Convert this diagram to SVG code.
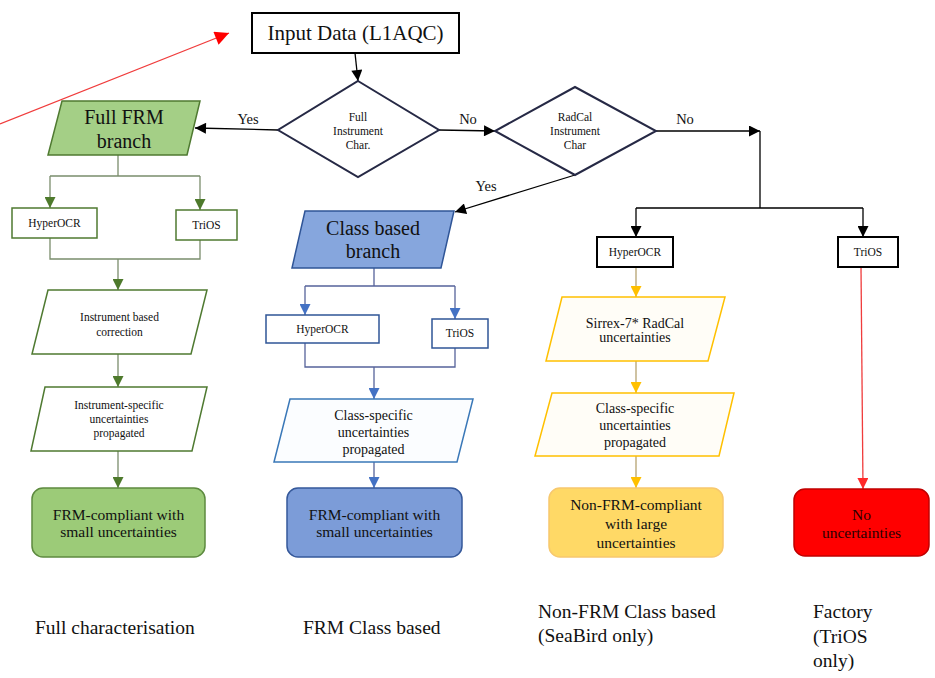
<svg xmlns="http://www.w3.org/2000/svg" width="935" height="678" viewBox="0 0 935 678" font-family="'Liberation Serif', 'Times New Roman', serif">
  <defs>
    <style>
      text { font-family: 'Liberation Serif', 'Times New Roman', serif; fill: #111; text-anchor: middle; }
      .title { font-size: 21px; }
      .big { font-size: 20px; }
      .mid { font-size: 15.5px; }
      .med { font-size: 14px; }
      .sm { font-size: 11.5px; }
      .lbl { font-size: 14.5px; }
      .foot { font-size: 19.5px; text-anchor: start; }
      .blk { fill: #fff; stroke: #000; stroke-width: 2; }
      .dia { fill: #fff; stroke: #262945; stroke-width: 2; }
      .c-blk { fill: none; stroke: #000; stroke-width: 1.3; }
      .c-grn { fill: none; stroke: #7a8d6c; stroke-width: 1.3; }
      .c-blu { fill: none; stroke: #56639a; stroke-width: 1.3; }
      .c-yel { fill: none; stroke: #b5a270; stroke-width: 1.3; }
      .c-red { fill: none; stroke: #f03c3c; stroke-width: 1.3; }
      .g-box { fill: #fff; stroke: #4f7a31; stroke-width: 1.5; }
      .b-box { fill: #fff; stroke: #2f5597; stroke-width: 1.5; }
      .g-par { fill: #fff; stroke: #4f7a31; stroke-width: 1.5; }
      .b-par { fill: #fbfdff; stroke: #3a78b8; stroke-width: 1.5; }
      .y-par { fill: #fffdf7; stroke: #ffc000; stroke-width: 1.5; }
    </style>
    <marker id="ah-k" viewBox="0 0 10 10" refX="10" refY="5" markerWidth="12" markerHeight="11" markerUnits="userSpaceOnUse" orient="auto"><path d="M0,0 L10,5 L0,10 z" fill="#000"/></marker>
    <marker id="ah-r" viewBox="0 0 10 10" refX="10" refY="5" markerWidth="18" markerHeight="14" markerUnits="userSpaceOnUse" orient="auto"><path d="M0,0 L10,5 L0,10 z" fill="#ff0000"/></marker>
    <marker id="ah-g" viewBox="0 0 10 10" refX="10" refY="5" markerWidth="11" markerHeight="11" markerUnits="userSpaceOnUse" orient="auto"><path d="M0,0 L10,5 L0,10 z" fill="#4e7a2c"/></marker>
    <marker id="ah-b" viewBox="0 0 10 10" refX="10" refY="5" markerWidth="11" markerHeight="11" markerUnits="userSpaceOnUse" orient="auto"><path d="M0,0 L10,5 L0,10 z" fill="#4472c4"/></marker>
    <marker id="ah-y" viewBox="0 0 10 10" refX="10" refY="5" markerWidth="11" markerHeight="11" markerUnits="userSpaceOnUse" orient="auto"><path d="M0,0 L10,5 L0,10 z" fill="#ffc000"/></marker>
    <marker id="ah-rs" viewBox="0 0 10 10" refX="10" refY="5" markerWidth="11" markerHeight="11" markerUnits="userSpaceOnUse" orient="auto"><path d="M0,0 L10,5 L0,10 z" fill="#ff2a2a"/></marker>
  </defs>

  <rect width="935" height="678" fill="#fff"/>

  <!-- connectors -->
  <g id="connectors">
    <path class="c-red" d="M0,124 L229,33" stroke="#ff0000" stroke-width="1.5" marker-end="url(#ah-r)"/>
    <path class="c-blk" d="M355,53 L358,81" marker-end="url(#ah-k)"/>
    <path class="c-blk" d="M278,130 L195,128" marker-end="url(#ah-k)"/>
    <path class="c-blk" d="M439,130 L495,131" marker-end="url(#ah-k)"/>
    <path class="c-blk" d="M656,131 L760,131" marker-end="url(#ah-k)"/>
    <path class="c-blk" d="M575,175 L455,212" stroke="#444" marker-end="url(#ah-k)"/>
    <path class="c-blk" d="M760,131 L760,208 M636,208 L863,208"/>
    <path class="c-blk" d="M636,208 L636,237" marker-end="url(#ah-k)"/>
    <path class="c-blk" d="M863,208 L863,237" marker-end="url(#ah-k)"/>

    <!-- full characterisation branch -->
    <path class="c-grn" d="M118,155 L118,176 M50,176 L200,176"/>
    <path class="c-grn" d="M50,176 L50,208" marker-end="url(#ah-g)"/>
    <path class="c-grn" d="M200,176 L200,210" marker-end="url(#ah-g)"/>
    <path class="c-grn" d="M50,238 L50,259 L200,259 L200,240"/>
    <path class="c-grn" d="M118,259 L118,290" marker-end="url(#ah-g)"/>
    <path class="c-grn" d="M118,354 L118,387" marker-end="url(#ah-g)"/>
    <path class="c-grn" d="M118,451 L118,488" marker-end="url(#ah-g)"/>

    <!-- class based branch -->
    <path class="c-blu" d="M374,268 L374,286 M305,286 L455,286"/>
    <path class="c-blu" d="M305,286 L305,315" marker-end="url(#ah-b)"/>
    <path class="c-blu" d="M455,286 L455,319" marker-end="url(#ah-b)"/>
    <path class="c-blu" d="M305,343 L305,367 L455,367 L455,348"/>
    <path class="c-blu" d="M374,367 L374,399" marker-end="url(#ah-b)"/>
    <path class="c-blu" d="M374,462 L374,488" marker-end="url(#ah-b)"/>

    <!-- non-FRM branch -->
    <path class="c-yel" d="M636,267 L636,297" marker-end="url(#ah-y)"/>
    <path class="c-yel" d="M636,361 L636,393" marker-end="url(#ah-y)"/>
    <path class="c-yel" d="M636,456 L636,488" marker-end="url(#ah-y)"/>

    <!-- factory branch -->
    <path class="c-red" d="M861,267 L863,489" marker-end="url(#ah-rs)"/>

    <text class="lbl" x="248" y="124">Yes</text>
    <text class="lbl" x="468" y="124">No</text>
    <text class="lbl" x="685" y="124">No</text>
    <text class="lbl" x="486" y="191">Yes</text>
  </g>

  <!-- nodes -->
  <g id="input">
    <rect class="blk" x="252" y="13" width="207" height="40"/>
    <text class="title" x="355.5" y="40">Input Data (L1AQC)</text>
  </g>

  <g id="full-char-decision">
    <polygon class="dia" points="358,81 439,130 358,177 278,130"/>
    <text class="sm" x="358" y="121">Full</text>
    <text class="sm" x="358" y="135">Instrument</text>
    <text class="sm" x="358" y="149">Char.</text>
  </g>

  <g id="radcal-decision">
    <polygon class="dia" points="575,87 656,131 575,175 495,131"/>
    <text class="sm" x="575" y="121">RadCal</text>
    <text class="sm" x="575" y="135">Instrument</text>
    <text class="sm" x="575" y="149">Char</text>
  </g>

  <g id="full-frm-branch">
    <polygon points="62,101 200,101 187,155 48,155" fill="#a4cf86" stroke="#4f7a31" stroke-width="1.5"/>
    <text class="big" x="124" y="124">Full FRM</text>
    <text class="big" x="124" y="148">branch</text>
  </g>

  <g id="full-hyperocr">
    <rect class="g-box" x="12" y="208" width="85" height="30"/>
    <text class="sm" x="54.5" y="227">HyperOCR</text>
  </g>

  <g id="full-trios">
    <rect class="g-box" x="176" y="210" width="61" height="30"/>
    <text class="sm" x="206.5" y="229">TriOS</text>
  </g>

  <g id="instrument-correction">
    <polygon class="g-par" points="48,290 207,290 191,354 32,354"/>
    <text class="sm" x="119.5" y="321">Instrument based</text>
    <text class="sm" x="119.5" y="336">correction</text>
  </g>

  <g id="instrument-uncertainties">
    <polygon class="g-par" points="45,387 207,387 192,451 31,451"/>
    <text class="sm" x="119" y="409">Instrument-specific</text>
    <text class="sm" x="119" y="423">uncertainties</text>
    <text class="sm" x="119" y="437">propagated</text>
  </g>

  <g id="full-result">
    <rect x="32" y="488" width="173" height="69" rx="11" fill="#9ccb78" stroke="#5d8a3f" stroke-width="1.5"/>
    <text class="mid" x="118.5" y="520">FRM-compliant with</text>
    <text class="mid" x="118.5" y="537">small uncertainties</text>
  </g>

  <g id="class-branch">
    <polygon points="305,211 454,211 441,268 292,268" fill="#86a6dd" stroke="#2f5597" stroke-width="1.5"/>
    <text class="big" x="373" y="235">Class based</text>
    <text class="big" x="373" y="258">branch</text>
  </g>

  <g id="class-hyperocr">
    <rect class="b-box" x="266" y="315" width="113" height="28"/>
    <text class="sm" x="322.5" y="333">HyperOCR</text>
  </g>

  <g id="class-trios">
    <rect class="b-box" x="432" y="319" width="56" height="29"/>
    <text class="sm" x="460" y="337">TriOS</text>
  </g>

  <g id="class-uncertainties">
    <polygon class="b-par" points="290,399 473,399 457,462 274,462"/>
    <text class="med" x="373.5" y="420">Class-specific</text>
    <text class="med" x="373.5" y="437">uncertainties</text>
    <text class="med" x="373.5" y="454">propagated</text>
  </g>

  <g id="class-result">
    <rect x="287" y="488" width="175" height="69" rx="11" fill="#7c9cd8" stroke="#35589a" stroke-width="1.5"/>
    <text class="mid" x="374.5" y="520">FRM-compliant with</text>
    <text class="mid" x="374.5" y="537">small uncertainties</text>
  </g>

  <g id="radcal-hyperocr">
    <rect class="blk" x="597" y="237" width="76" height="30"/>
    <text class="sm" x="635" y="256">HyperOCR</text>
  </g>

  <g id="factory-trios">
    <rect class="blk" x="838" y="237" width="60" height="30"/>
    <text class="sm" x="868" y="256">TriOS</text>
  </g>

  <g id="sirrex-uncertainties">
    <polygon class="y-par" points="562,297 725,297 708,361 546,361"/>
    <text class="med" x="635" y="328">Sirrex-7* RadCal</text>
    <text class="med" x="635" y="342">uncertainties</text>
  </g>

  <g id="radcal-class-uncertainties">
    <polygon class="y-par" points="552,393 734,393 719,456 535,456"/>
    <text class="med" x="635" y="413">Class-specific</text>
    <text class="med" x="635" y="430">uncertainties</text>
    <text class="med" x="635" y="447">propagated</text>
  </g>

  <g id="radcal-result">
    <rect x="549" y="488" width="174" height="69" rx="11" fill="#ffd966" stroke="#f7c86e" stroke-width="1.5"/>
    <text class="mid" x="636" y="510">Non-FRM-compliant</text>
    <text class="mid" x="636" y="529">with large</text>
    <text class="mid" x="636" y="548">uncertainties</text>
  </g>

  <g id="factory-result">
    <rect x="794" y="489" width="135" height="67" rx="11" fill="#ff0000" stroke="#c00000" stroke-width="1.5"/>
    <text class="mid" x="861.5" y="520" style="fill:#2a0000">No</text>
    <text class="mid" x="861.5" y="538" style="fill:#2a0000">uncertainties</text>
  </g>

  <!-- column captions -->
  <g id="captions">
    <text class="foot" x="35" y="634">Full characterisation</text>
    <text class="foot" x="303" y="634">FRM Class based</text>
    <text class="foot" x="538" y="618">Non-FRM Class based</text>
    <text class="foot" x="538" y="642">(SeaBird only)</text>
    <text class="foot" x="813" y="618">Factory</text>
    <text class="foot" x="813" y="643">(TriOS</text>
    <text class="foot" x="813" y="667">only)</text>
  </g>
</svg>
